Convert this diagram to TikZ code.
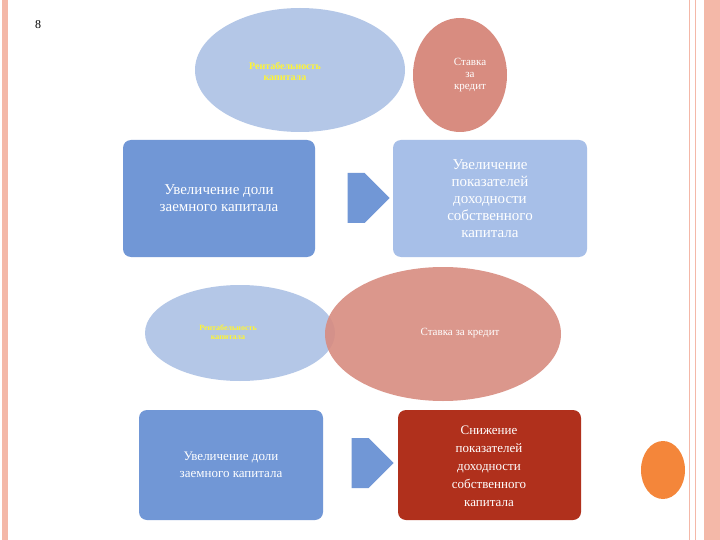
\documentclass[tikz,border=0pt]{standalone}
\usepackage{fontspec}
\setmainfont{Liberation Serif}
\usetikzlibrary{shapes.arrows}
\definecolor{lblue}{HTML}{B4C7E7}
\definecolor{mblue}{HTML}{7197D6}
\definecolor{pblue}{HTML}{A7BFE8}
\definecolor{salmon}{HTML}{D88C80}
\definecolor{dred}{HTML}{B0301C}
\definecolor{border}{HTML}{F4B8A8}
\definecolor{orng}{HTML}{F4863A}
\tikzset{
 ell/.style={ellipse, inner sep=0pt},
 box/.style={rounded corners=8pt, minimum width=#1, text=white, font=\fontsize{15}{17}\selectfont, align=center, inner sep=0pt},
 arr/.style={single arrow, fill=mblue, minimum width=50pt, single arrow head extend=0pt, minimum height=42pt, inner sep=0pt, single arrow tip angle=90},
 ytxt/.style={text=yellow!80!white, font=\bfseries\fontsize{10}{11}\selectfont, align=center},
}
\usetikzlibrary{shapes.geometric}
\begin{document}
\begin{tikzpicture}[x=1pt,y=-1pt]
\useasboundingbox (0,0) rectangle (720,540);
\fill[white] (0,0) rectangle (720,540);
\fill[border] (2,0) rectangle (8,540);
\draw[border, line width=1pt] (689,0) -- (689,540) (695,0) -- (695,540);
\fill[border] (704,0) rectangle (720,540);
\node (n8) at (38,25) {\fontsize{12}{12}\selectfont 8};
% top ellipses
\fill[lblue] (300,70) ellipse (105 and 62);
\node[ytxt] (e1) at (285,71) {Рентабельность\\капитала};
\fill[salmon] (460,75) ellipse (47 and 57);
\node[text=white, align=center, font=\fontsize{11}{12}\selectfont] (e2) at (470,75) {Ставка\\за\\кредит};
% row 1
\fill[mblue, rounded corners=8pt] (123,140) rectangle (315,257);
\node[box=1pt] (b1) at (219,198) {Увеличение доли\\заемного капитала};
\node[arr] (a1) at (356,198) {};
\fill[pblue, rounded corners=8pt] (393,140) rectangle (587,257);
\node[box=1pt] (b2) at (490,199) {Увеличение\\показателей\\доходности\\собственного\\капитала};
% middle ellipses
\fill[lblue] (240,333) ellipse (95 and 48);
\fill[salmon, opacity=0.9] (443,334) ellipse (118 and 67);
\node[ytxt, font=\bfseries\fontsize{8}{9}\selectfont] (e3) at (228,332) {Рентабельность\\капитала};
\node[text=white, font=\fontsize{11}{12}\selectfont] (e4) at (460,333) {Ставка за кредит};
% row 2
\fill[mblue, rounded corners=8pt] (139,410) rectangle (323,520);
\node[box=1pt, font=\fontsize{13}{17}\selectfont] (b3) at (231,465) {Увеличение доли\\заемного капитала};
\node[arr] (a2) at (360,463) {};
\fill[dred, rounded corners=8pt] (398,410) rectangle (581,520);
\node[box=1pt, font=\fontsize{13}{18}\selectfont] (b4) at (489,466) {Снижение\\показателей\\доходности\\собственного\\капитала};
\fill[orng] (663,470) ellipse (22 and 29);
\end{tikzpicture}
\end{document}
